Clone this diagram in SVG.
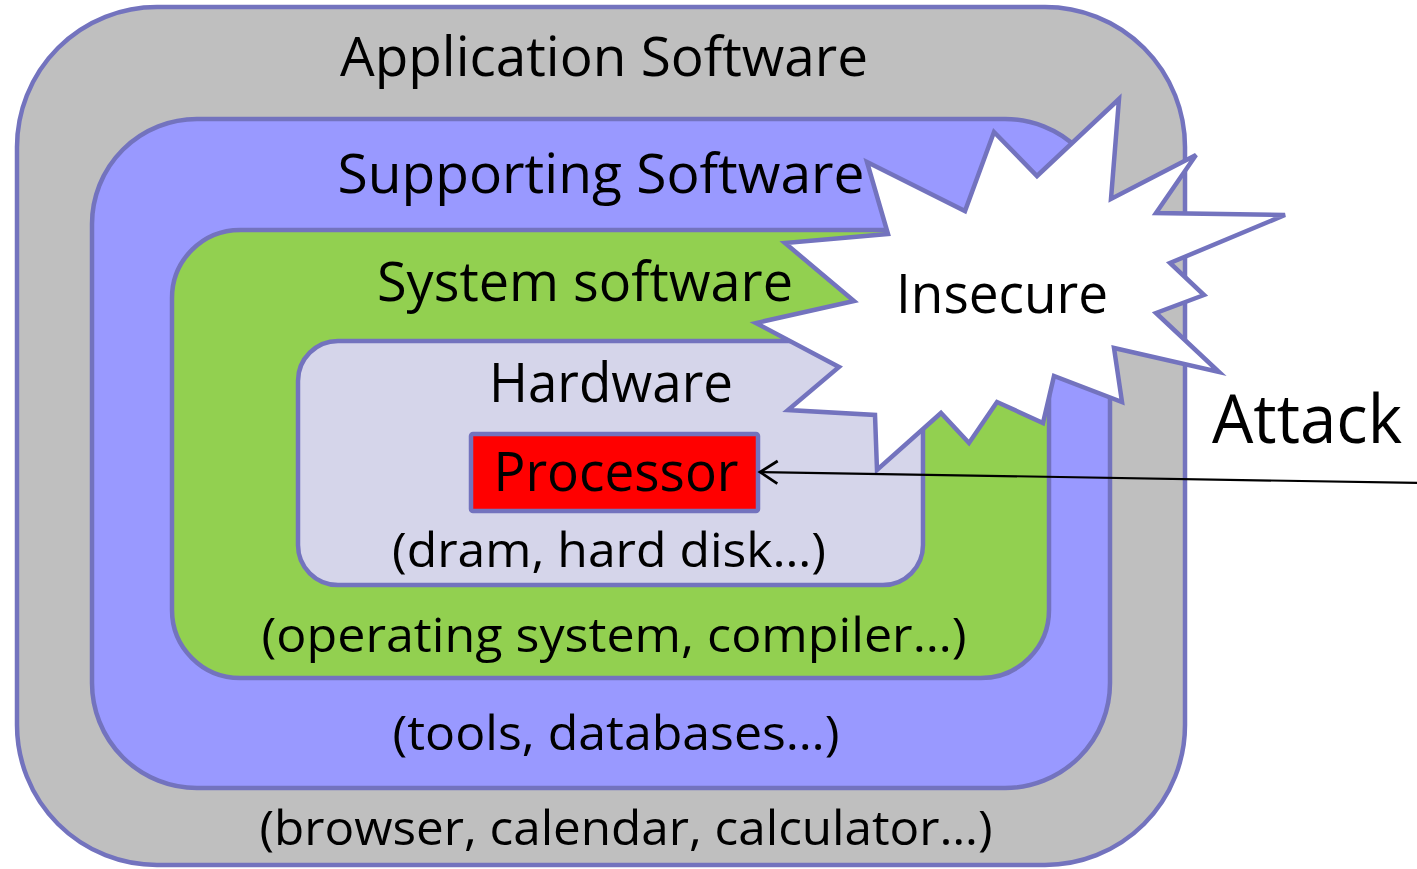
<svg xmlns="http://www.w3.org/2000/svg" width="1417" height="869" viewBox="0 0 1417 869">
  <style>
    .layer { stroke: #7373BE; stroke-width: 4.5; }
    .lbl { font-family: "Open Sans", "Noto Sans", "DejaVu Sans", sans-serif; fill: #000; text-anchor: middle; }
    .head { font-size: 54px; }
    .note { font-size: 48px; }
  </style>
  <defs>
    <marker id="openHead" markerUnits="userSpaceOnUse" markerWidth="30" markerHeight="30" refX="0" refY="0" viewBox="-16 -12 20 24" orient="auto" overflow="visible">
      <path d="M-14,-9 L0,0 L-14,9" fill="none" stroke="#000" stroke-width="2.2"/>
    </marker>
  </defs>

  <rect width="1417" height="869" fill="#FFFFFF"/>

  <!-- Application software layer -->
  <g id="application">
    <rect class="layer" x="17" y="7" width="1168" height="858" rx="140" ry="140" fill="#BFBFBF"/>
    <text class="lbl head" x="604" y="76" textLength="528" lengthAdjust="spacingAndGlyphs">Application Software</text>
    <text class="lbl note" x="626" y="845" textLength="733" lengthAdjust="spacingAndGlyphs">(browser, calendar, calculator…)</text>
  </g>

  <!-- Supporting software layer -->
  <g id="supporting">
    <rect class="layer" x="92" y="119" width="1018" height="669" rx="105" ry="105" fill="#9999FF"/>
    <text class="lbl head" x="601" y="193" textLength="527" lengthAdjust="spacingAndGlyphs">Supporting Software</text>
    <text class="lbl note" x="616" y="750" textLength="447" lengthAdjust="spacingAndGlyphs">(tools, databases…)</text>
  </g>

  <!-- System software layer -->
  <g id="system">
    <rect class="layer" x="172" y="230" width="877" height="448" rx="68" ry="68" fill="#92D050"/>
    <text class="lbl head" x="585" y="301" textLength="416" lengthAdjust="spacingAndGlyphs">System software</text>
    <text class="lbl note" x="614" y="652" textLength="705" lengthAdjust="spacingAndGlyphs">(operating system, compiler…)</text>
  </g>

  <!-- Hardware layer -->
  <g id="hardware">
    <rect class="layer" x="298" y="341" width="625" height="244" rx="40" ry="40" fill="#D5D5EA"/>
    <text class="lbl head" x="611" y="402" textLength="244" lengthAdjust="spacingAndGlyphs">Hardware</text>
    <text class="lbl note" x="609" y="567" textLength="434" lengthAdjust="spacingAndGlyphs">(dram, hard disk…)</text>
  </g>

  <!-- Processor -->
  <g id="processor">
    <rect class="layer" x="471" y="434" width="287" height="77" rx="2" ry="2" fill="#FF0000"/>
    <text class="lbl head" x="616" y="491" textLength="245" lengthAdjust="spacingAndGlyphs">Processor</text>
  </g>

  <!-- Insecure burst -->
  <g id="insecure">
    <polygon class="layer" fill="#FFFFFF" stroke-linejoin="miter" points="867,162 965,211 994,132 1037,176 1119,99 1111,199 1196,155 1156,213 1285,215 1170,263 1204,295 1156,313 1219,372 1114,348 1122,402 1054,376 1043,423 997,402 969,443 941,413 877,470 875,415 788,410 839,367 756,323 854,301 785,243 888,234"/>
    <text class="lbl head" x="1002" y="313" textLength="212" lengthAdjust="spacingAndGlyphs">Insecure</text>
  </g>

  <!-- Attack label -->
  <g id="attack">
    <text class="lbl" x="1307" y="443" font-size="68" textLength="190" lengthAdjust="spacingAndGlyphs">Attack</text>
  </g>

  <!-- Connectors -->
  <g id="connectors">
    <line x1="1420" y1="483" x2="760" y2="472" stroke="#000" stroke-width="2.2" marker-end="url(#openHead)"/>
  </g>
</svg>
